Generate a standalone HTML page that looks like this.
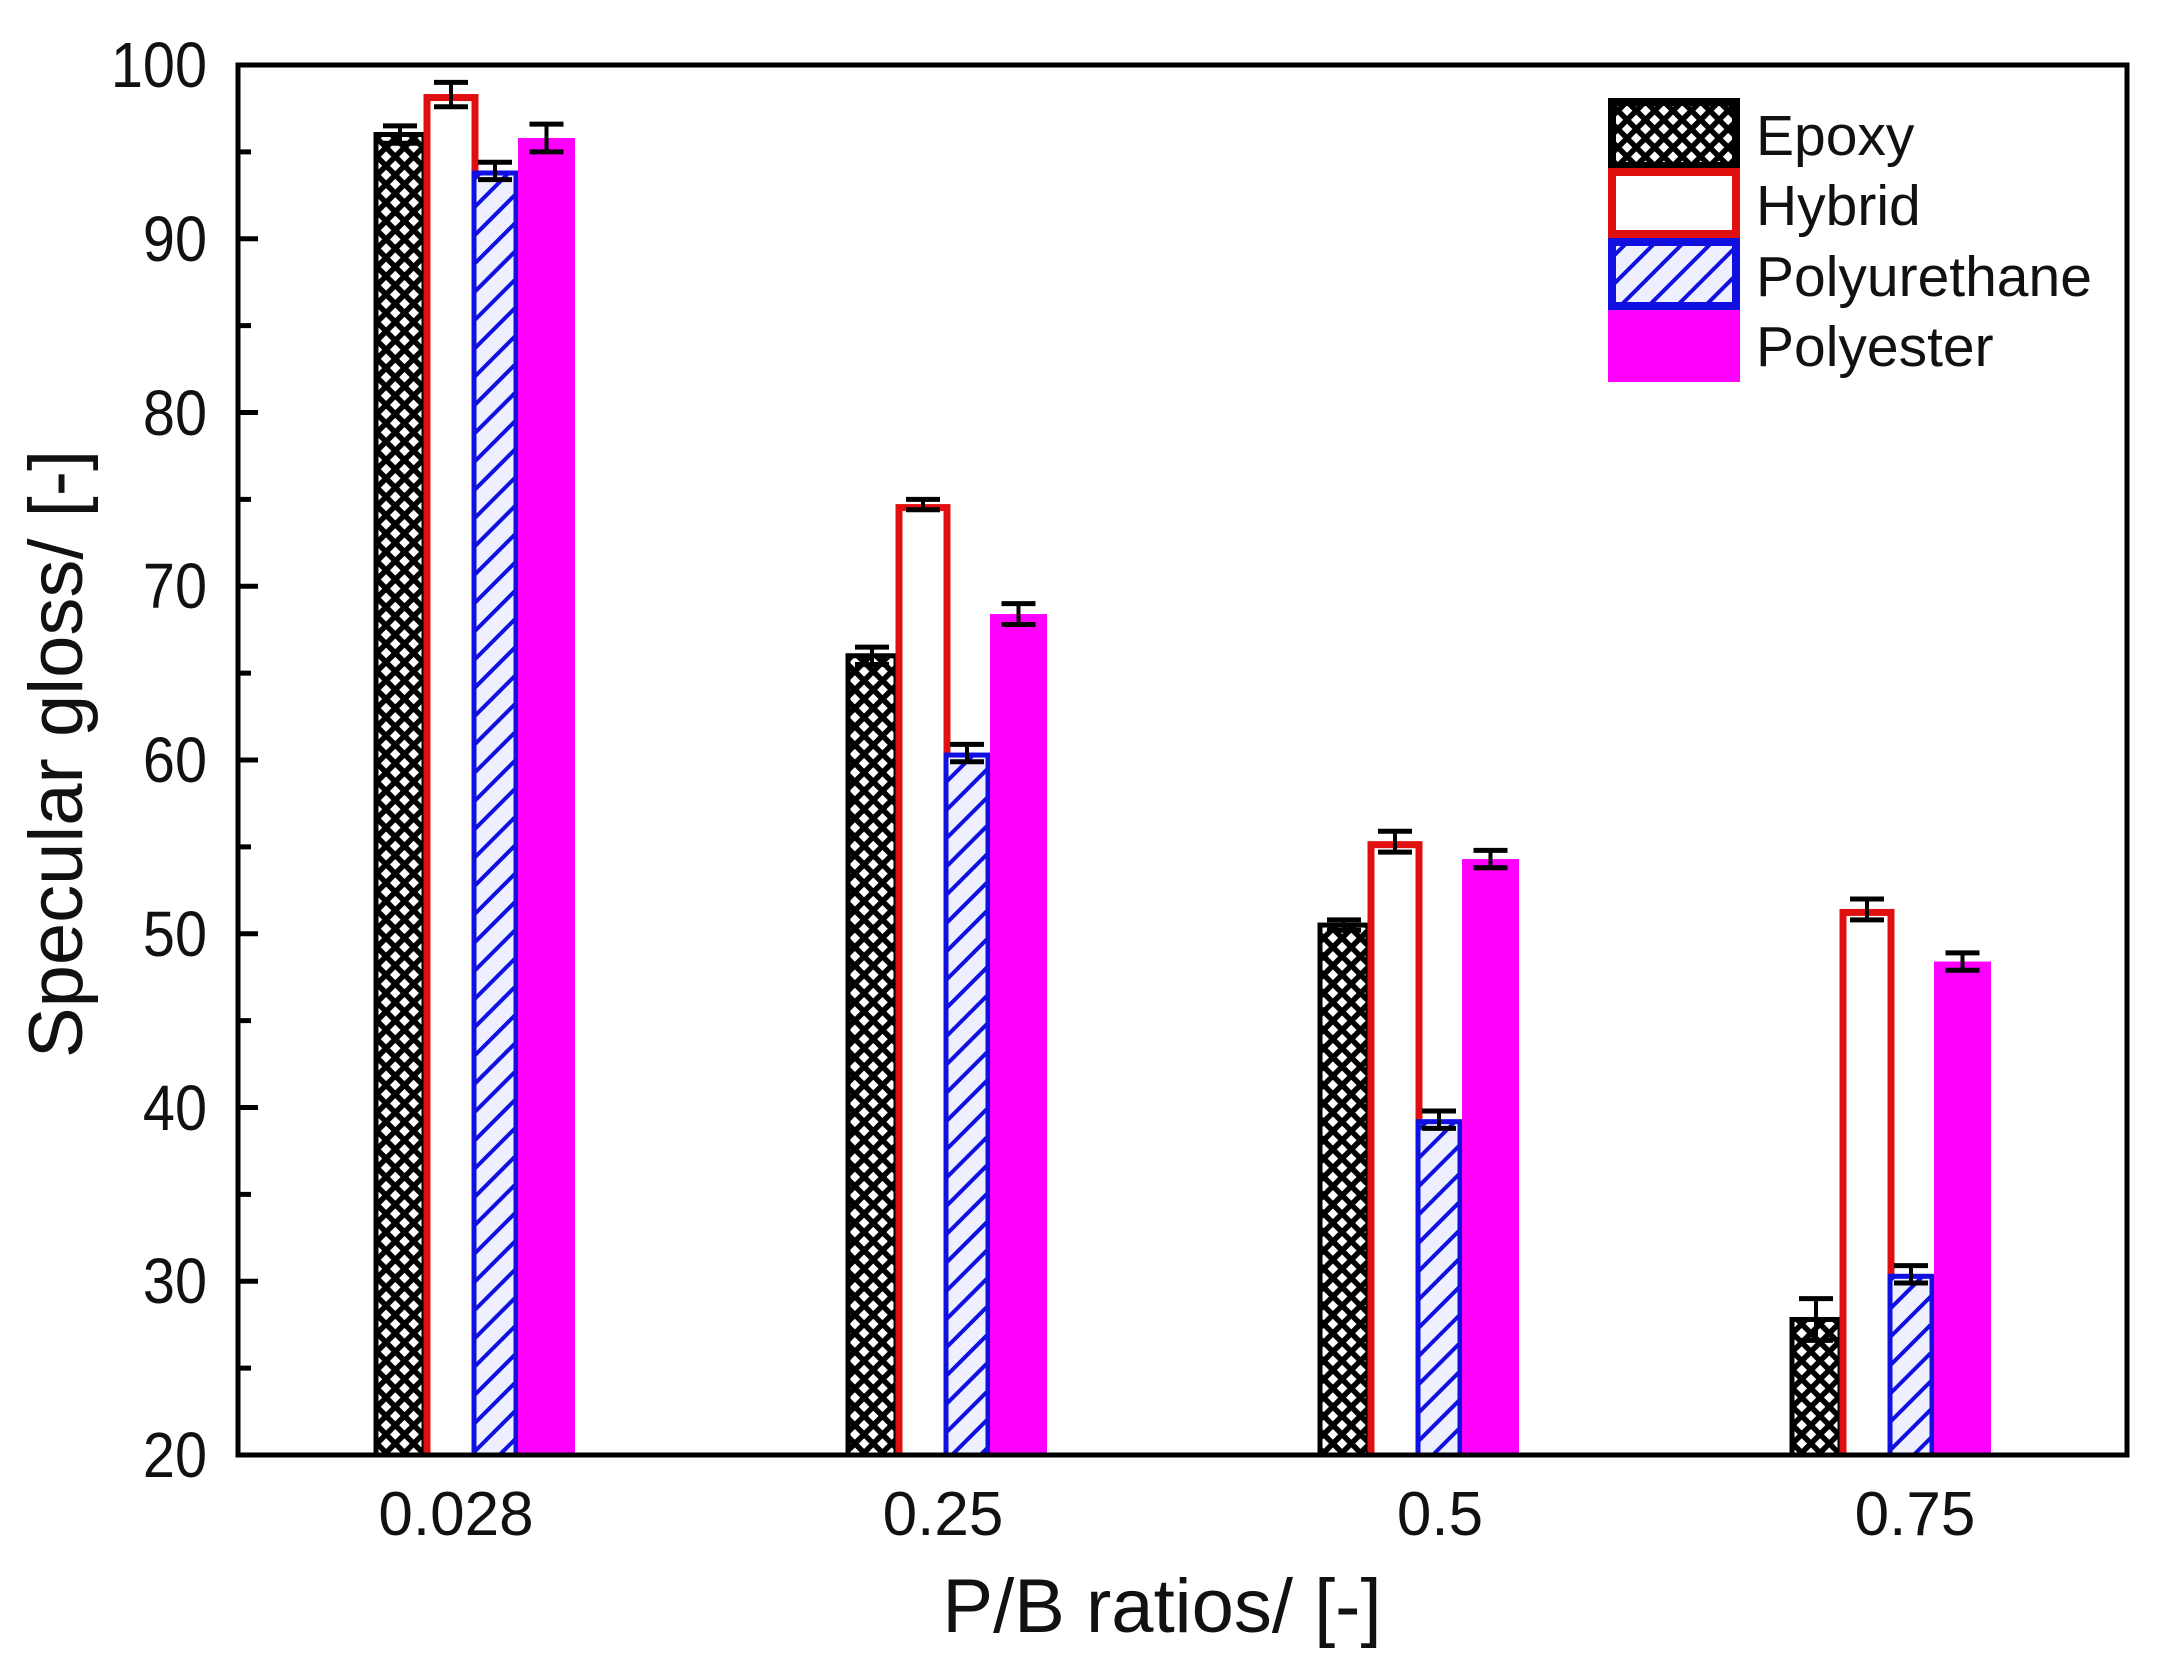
<!DOCTYPE html>
<html><head><meta charset="utf-8"><style>
html,body{margin:0;padding:0;background:#fff;}
svg{display:block;}
text{font-family:"Liberation Sans",Arial,sans-serif;fill:#111;}
</style></head><body>
<svg width="2158" height="1668" viewBox="0 0 2158 1668" xmlns="http://www.w3.org/2000/svg">
<defs>
<pattern id="xh" patternUnits="userSpaceOnUse" width="13" height="13" patternTransform="rotate(45)">
<rect width="13" height="13" fill="#000"/>
<rect x="3" y="3" width="7.5" height="7.5" fill="#fff"/>
</pattern>
<pattern id="dh" patternUnits="userSpaceOnUse" width="20" height="20" patternTransform="rotate(45)">
<rect width="20" height="20" fill="#eef0ff"/>
<rect x="0" y="0" width="4" height="20" fill="#1010e0"/>
</pattern>
<clipPath id="pc"><rect x="238" y="0" width="1889" height="1455"/></clipPath>
</defs>
<g id="bars" clip-path="url(#pc)"></g>
<g id="ticks"></g>
<script>
(function(){
var ns="http://www.w3.org/2000/svg";
var g=document.getElementById('bars'),gt=document.getElementById('ticks');
function y(v){return 1455-(v-20)*17.375;}
function el(t,a,p){var e=document.createElementNS(ns,t);for(var k in a)e.setAttribute(k,a[k]);(p||g).appendChild(e);return e;}
var centers=[476,948,1420,1892];
var data=[[96,98.3,93.9,95.8],[66,74.7,60.4,68.4],[50.5,55.3,39.3,54.3],[27.8,51.4,30.4,48.4]];
var errs=[[0.5,0.7,0.5,0.8],[0.5,0.3,0.5,0.6],[0.3,0.6,0.5,0.5],[1.2,0.6,0.5,0.5]];
var offs=[[-100,-52],[-52,2],[-4,42],[42,99]];
for(var i=0;i<4;i++){
 var c=centers[i];
 for(var s=0;s<4;s++){
  var v=data[i][s],x0=c+offs[s][0],x1=c+offs[s][1],yt=y(v);
  if(s==0){el('rect',{x:x0,y:yt,width:x1-x0,height:1470-yt,fill:'url(#xh)',stroke:'#000','stroke-width':5});}
  if(s==1){el('rect',{x:x0+3,y:yt+3,width:x1-x0-6,height:1470-yt,fill:'#fff',stroke:'#e01010','stroke-width':7});}
  if(s==2){el('rect',{x:x0+2,y:yt+2,width:x1-x0-4,height:1470-yt,fill:'url(#dh)',stroke:'#1010e0','stroke-width':5});}
  if(s==3){el('rect',{x:x0,y:yt,width:x1-x0,height:1470-yt,fill:'#ff00ff'});}
  var xm=(x0+x1)/2,e=errs[i][s]*17.375;
  el('line',{x1:xm,y1:yt-e,x2:xm,y2:yt+e,stroke:'#000','stroke-width':4});
  el('line',{x1:xm-17,y1:yt-e,x2:xm+17,y2:yt-e,stroke:'#000','stroke-width':5});
  el('line',{x1:xm-17,y1:yt+e,x2:xm+17,y2:yt+e,stroke:'#000','stroke-width':5});
 }
}
for(var t=20;t<=100;t+=5){
 var yy=y(t),L=(t%10==0)?20:13;
 el('line',{x1:238,y1:yy,x2:238+L,y2:yy,stroke:'#000','stroke-width':5},gt);
}
})();
</script>
<rect x="238" y="65" width="1889" height="1390" fill="none" stroke="#000" stroke-width="5"/>
<g font-size="64" text-anchor="end">
<text x="207" y="87" transform="translate(207,0) scale(0.9,1) translate(-207,0)">100</text>
<text x="207" y="261" transform="translate(207,0) scale(0.9,1) translate(-207,0)">90</text>
<text x="207" y="435" transform="translate(207,0) scale(0.9,1) translate(-207,0)">80</text>
<text x="207" y="608" transform="translate(207,0) scale(0.9,1) translate(-207,0)">70</text>
<text x="207" y="782" transform="translate(207,0) scale(0.9,1) translate(-207,0)">60</text>
<text x="207" y="956" transform="translate(207,0) scale(0.9,1) translate(-207,0)">50</text>
<text x="207" y="1130" transform="translate(207,0) scale(0.9,1) translate(-207,0)">40</text>
<text x="207" y="1303" transform="translate(207,0) scale(0.9,1) translate(-207,0)">30</text>
<text x="207" y="1477" transform="translate(207,0) scale(0.9,1) translate(-207,0)">20</text>
</g>
<g font-size="62" text-anchor="middle">
<text x="456" y="1535">0.028</text>
<text x="943" y="1535">0.25</text>
<text x="1440" y="1535">0.5</text>
<text x="1915" y="1535">0.75</text>
</g>
<text x="1162" y="1632" font-size="76" text-anchor="middle">P/B ratios/ [-]</text>
<text transform="translate(82,754) rotate(-90)" font-size="76" text-anchor="middle">Specular gloss/ [-]</text>
<rect x="1612" y="102" width="124" height="64" fill="url(#xh)" stroke="#000" stroke-width="8"/>
<rect x="1612" y="172" width="124" height="62" fill="#fff" stroke="#e01010" stroke-width="8"/>
<rect x="1612" y="242" width="124" height="64" fill="url(#dh)" stroke="#1010e0" stroke-width="8"/>
<rect x="1608" y="310" width="132" height="72" fill="#ff00ff"/>
<g font-size="57">
<text x="1756" y="155">Epoxy</text>
<text x="1756" y="225">Hybrid</text>
<text x="1756" y="296">Polyurethane</text>
<text x="1756" y="366">Polyester</text>
</g>
</svg>
</body></html>
